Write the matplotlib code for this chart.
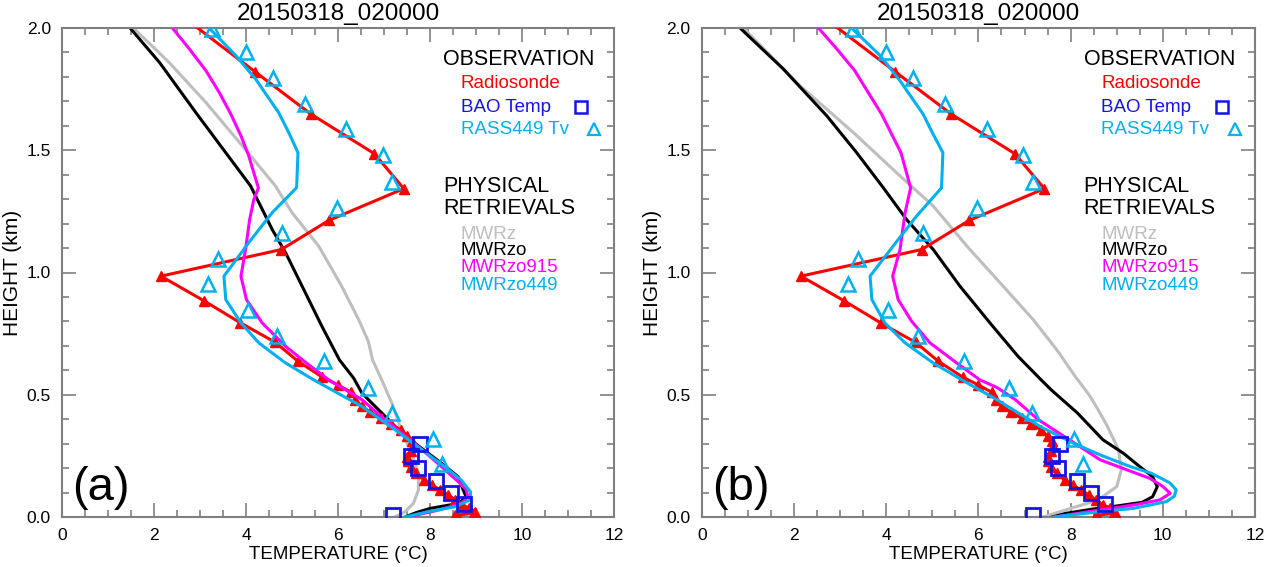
import matplotlib
matplotlib.use("Agg")
import matplotlib.pyplot as plt
from matplotlib.ticker import MultipleLocator

plt.rcParams['font.family'] = ['Liberation Sans', 'DejaVu Sans']

title_text = "20150318_020000"
panel_labels = ["(a)", "(b)"]

# Observations (shared by both panels)
radiosonde_h = [0.00, 0.007, 0.015, 0.022, 0.036, 0.05, 0.07, 0.09, 0.111, 0.13, 0.152, 0.18,
                0.206, 0.227, 0.247, 0.27, 0.29, 0.31, 0.33, 0.357, 0.38, 0.404, 0.43, 0.452,
                0.48, 0.51, 0.54, 0.572, 0.637, 0.714, 0.794, 0.885, 0.985, 1.094, 1.213,
                1.343, 1.486, 1.648, 1.822, 2.05]
radiosonde_t = [8.6, 8.55, 8.95, 8.97, 8.85, 8.7, 8.55, 8.4, 8.22, 8.05, 7.87, 7.7,
                7.58, 7.52, 7.5, 7.58, 7.62, 7.6, 7.5, 7.36, 7.15, 6.94, 6.7, 6.52,
                6.38, 6.29, 6.0, 5.66, 5.13, 4.64, 3.88, 3.08, 2.15, 4.77, 5.80,
                7.43, 6.79, 5.41, 4.19, 2.6]

bao_h = [0.01, 0.052, 0.100, 0.149, 0.199, 0.251, 0.299]
bao_t = [7.19, 8.74, 8.45, 8.13, 7.73, 7.59, 7.78]

rass_h = [0.216, 0.318, 0.425, 0.527, 0.637, 0.742, 0.846, 0.951, 1.057, 1.163, 1.265,
          1.372, 1.480, 1.586, 1.689, 1.794, 1.90, 1.995]
rass_t = [8.27, 8.07, 7.17, 6.66, 5.69, 4.68, 4.04, 3.18, 3.39, 4.79, 5.98,
          7.18, 6.97, 6.18, 5.28, 4.58, 3.99, 3.27]

# Retrievals, panel (a)
a_mwrz_h = [2.0, 1.859, 1.695, 1.518, 1.354, 1.245, 1.108, 0.944, 0.807, 0.718, 0.643, 0.561,
            0.466, 0.343, 0.261, 0.179, 0.111, 0.056, 0.022, 0.0]
a_mwrz_t = [1.55, 2.33, 3.13, 3.92, 4.64, 5.0, 5.58, 6.08, 6.45, 6.66, 6.75, 6.95,
            7.17, 7.4, 7.6, 7.75, 7.75, 7.64, 7.46, 7.24]

a_mwrzo_h = [2.0, 1.859, 1.654, 1.490, 1.354, 1.286, 1.176, 1.081, 0.944, 0.780, 0.643, 0.568,
             0.507, 0.452, 0.398, 0.357, 0.302, 0.22, 0.165, 0.111, 0.085, 0.065, 0.05,
             0.035, 0.018, 0.0]
a_mwrzo_t = [1.48, 2.12, 2.91, 3.56, 4.10, 4.28, 4.57, 4.86, 5.22, 5.65, 6.03, 6.34,
             6.52, 6.81, 7.10, 7.31, 7.67, 8.25, 8.61, 8.72, 8.78, 8.68, 8.45,
             8.0, 7.7, 7.46]

a_mwrzo915_h = [2.0, 1.914, 1.825, 1.736, 1.648, 1.559, 1.477, 1.408, 1.346, 1.299, 1.217,
                1.094, 0.985, 0.889, 0.794, 0.698, 0.623, 0.561, 0.48, 0.370, 0.288, 0.206,
                0.145, 0.111, 0.084, 0.06, 0.045, 0.029, 0.012, 0.0]
a_mwrzo915_t = [2.40, 2.77, 3.13, 3.42, 3.67, 3.89, 4.06, 4.17, 4.27, 4.17, 4.08,
                3.99, 3.89, 4.01, 4.35, 4.86, 5.36, 5.80, 6.52, 7.2, 7.75, 8.25,
                8.61, 8.79, 8.82, 8.72, 8.5, 8.2, 7.8, 7.5]

a_mwrzo449_h = [2.0, 1.887, 1.791, 1.654, 1.572, 1.490, 1.347, 1.245, 1.122, 0.985, 0.889,
                0.794, 0.712, 0.630, 0.561, 0.527, 0.452, 0.357, 0.275, 0.206, 0.151, 0.103,
                0.070, 0.042, 0.022, 0.0]
a_mwrzo449_t = [3.2, 3.78, 4.21, 4.71, 4.93, 5.13, 5.10, 4.57, 4.06, 3.52, 3.56,
                3.89, 4.28, 4.86, 5.47, 5.80, 6.52, 7.24, 7.82, 8.32, 8.68, 8.88,
                8.88, 8.54, 7.96, 7.46]

# Retrievals, panel (b)
b_mwrz_h = [2.0, 1.764, 1.572, 1.395, 1.272, 1.108, 0.958, 0.807, 0.684, 0.575, 0.50, 0.438,
            0.37, 0.275, 0.193, 0.124, 0.07, 0.035, 0.0]
b_mwrz_t = [0.9, 2.13, 3.29, 4.30, 5.02, 5.75, 6.47, 7.19, 7.7, 8.1, 8.4, 8.6,
            8.8, 9.04, 9.1, 9.0, 8.6, 8.0, 7.4]

b_mwrzo_h = [2.0, 1.832, 1.641, 1.490, 1.346, 1.217, 1.094, 0.944, 0.794, 0.657, 0.561, 0.52,
             0.425, 0.316, 0.26, 0.206, 0.165, 0.124, 0.083, 0.06, 0.045, 0.033, 0.015, 0.0]
b_mwrzo_t = [0.83, 1.77, 2.71, 3.36, 3.94, 4.44, 5.02, 5.60, 6.25, 6.86, 7.36, 7.58,
             8.15, 8.7, 9.15, 9.5, 9.78, 9.88, 9.78, 9.55, 9.0, 8.5, 7.9, 7.6]

b_mwrzo915_h = [2.0, 1.914, 1.825, 1.736, 1.648, 1.565, 1.490, 1.408, 1.346, 1.245, 1.094,
                0.985, 0.889, 0.801, 0.712, 0.630, 0.561, 0.53, 0.48, 0.398, 0.288, 0.234,
                0.193, 0.158, 0.125, 0.097, 0.07, 0.05, 0.029, 0.0]
b_mwrzo915_t = [2.53, 2.93, 3.32, 3.61, 3.90, 4.12, 4.32, 4.44, 4.53, 4.41, 4.30,
                4.14, 4.26, 4.55, 4.95, 5.53, 6.03, 6.4, 6.8, 7.3, 8.2, 8.64,
                9.22, 9.72, 10.0, 10.16, 9.94, 9.4, 8.64, 7.65]

b_mwrzo449_h = [2.0, 1.887, 1.784, 1.648, 1.565, 1.490, 1.346, 1.231, 1.108, 0.985, 0.889,
                0.794, 0.712, 0.630, 0.561, 0.48, 0.37, 0.302, 0.254, 0.206, 0.179, 0.14,
                0.111, 0.085, 0.063, 0.035, 0.022, 0.0]
b_mwrzo449_t = [3.25, 3.87, 4.30, 4.80, 5.02, 5.23, 5.20, 4.66, 4.15, 3.65, 3.69,
                3.97, 4.41, 5.02, 5.64, 6.40, 7.34, 8.06, 8.64, 9.3, 9.75, 10.15,
                10.29, 10.25, 10.08, 9.36, 8.64, 7.65]

panels = [
    dict(mwrz=(a_mwrz_t, a_mwrz_h), mwrzo=(a_mwrzo_t, a_mwrzo_h),
         mwrzo915=(a_mwrzo915_t, a_mwrzo915_h), mwrzo449=(a_mwrzo449_t, a_mwrzo449_h)),
    dict(mwrz=(b_mwrz_t, b_mwrz_h), mwrzo=(b_mwrzo_t, b_mwrzo_h),
         mwrzo915=(b_mwrzo915_t, b_mwrzo915_h), mwrzo449=(b_mwrzo449_t, b_mwrzo449_h)),
]

RED = '#ff0000'
BLUE = '#1414e6'
CYAN = '#00b0f0'
MAGENTA = '#ff00ff'
GRAY = '#bebebe'
SPINE = '#7f7f7f'

fig = plt.figure(figsize=(12.65, 5.67), dpi=100)
lefts = [62 / 1265, 701.8 / 1265]
widths = [552 / 1265, 553.2 / 1265]
bottom = 50 / 567
height = 489 / 567

for i, p in enumerate(panels):
    ax = fig.add_axes([lefts[i], bottom, widths[i], height])
    lw = 2.2
    ax.plot(*p['mwrz'], color=GRAY, lw=lw, zorder=2)
    ax.plot(*p['mwrzo'], color='black', lw=lw, zorder=2)
    ax.plot(radiosonde_t, radiosonde_h, color=RED, lw=2.2, marker='^', ms=6.5,
            mfc=RED, mec=RED, zorder=3)
    ax.plot(*p['mwrzo915'], color=MAGENTA, lw=lw, zorder=4)
    ax.plot(*p['mwrzo449'], color=CYAN, lw=lw, zorder=4)
    ax.plot(bao_t, bao_h, ls='none', marker='s', ms=9.5, mfc='none', mec=BLUE, mew=2.0, zorder=5)
    ax.plot(rass_t, rass_h, ls='none', marker='^', ms=10, mfc='none', mec=CYAN, mew=1.8, zorder=5)

    ax.set_xlim(0, 12)
    ax.set_ylim(0, 2.0)
    ax.xaxis.set_major_locator(MultipleLocator(2))
    ax.xaxis.set_minor_locator(MultipleLocator(0.5))
    ax.yaxis.set_major_locator(MultipleLocator(0.5))
    ax.yaxis.set_minor_locator(MultipleLocator(0.1))
    ax.yaxis.set_major_formatter(plt.FormatStrFormatter('%.1f'))
    ax.tick_params(which='both', direction='in', top=True, right=True, color=SPINE, width=1.2)
    ax.tick_params(which='major', length=10, labelsize=12.5, pad=8)
    ax.tick_params(which='minor', length=5)
    for s in ax.spines.values():
        s.set_color(SPINE)
        s.set_linewidth(1.5)

    ax.set_xlabel("TEMPERATURE (°C)", fontsize=13.5, labelpad=2)
    ax.set_ylabel("HEIGHT (km)", fontsize=15, labelpad=3)
    ax.set_title(title_text, fontsize=17.5, pad=6)

    ax.text(0.018, 0.035, panel_labels[i], transform=ax.transAxes, fontsize=34,
            ha='left', va='baseline')

    tx0, tx1 = 0.690, 0.722
    ax.text(tx0, 0.935, "OBSERVATION", transform=ax.transAxes, fontsize=15.5, va='center', color='black')
    ax.text(tx1, 0.887, "Radiosonde", transform=ax.transAxes, fontsize=13.5, va='center', color=RED)
    ax.text(tx1, 0.838, "BAO Temp", transform=ax.transAxes, fontsize=13.5, va='center', color=BLUE)
    ax.plot([0.94], [0.838], transform=ax.transAxes, marker='s', ms=8, mfc='none', mec=BLUE,
            mew=1.8, clip_on=False)
    ax.text(tx1, 0.792, "RASS449 Tv", transform=ax.transAxes, fontsize=13.5, va='center', color=CYAN)
    ax.plot([0.964], [0.794], transform=ax.transAxes, marker='^', ms=9, mfc='none', mec=CYAN,
            mew=1.6, clip_on=False)
    ax.text(tx0, 0.675, "PHYSICAL", transform=ax.transAxes, fontsize=15.5, va='center')
    ax.text(tx0, 0.630, "RETRIEVALS", transform=ax.transAxes, fontsize=15.5, va='center')
    ax.text(tx1, 0.577, "MWRz", transform=ax.transAxes, fontsize=13.5, va='center', color=GRAY)
    ax.text(tx1, 0.544, "MWRzo", transform=ax.transAxes, fontsize=13.5, va='center', color='black')
    ax.text(tx1, 0.511, "MWRzo915", transform=ax.transAxes, fontsize=13.5, va='center', color=MAGENTA)
    ax.text(tx1, 0.474, "MWRzo449", transform=ax.transAxes, fontsize=13.5, va='center', color=CYAN)

fig.savefig("out.png", dpi=100)
